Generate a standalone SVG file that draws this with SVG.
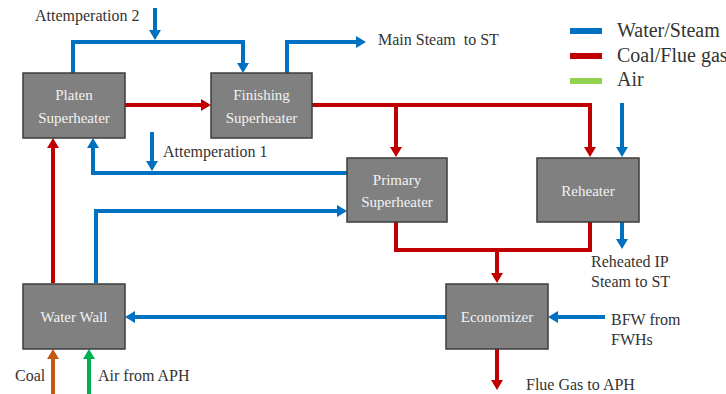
<svg xmlns="http://www.w3.org/2000/svg" width="726" height="394" viewBox="0 0 726 394">
  <style>
    text { font-family: 'Liberation Serif', 'Times New Roman', Times, 'DejaVu Serif', 'Noto Serif', serif; }
    .box { fill: #808080; stroke: #3c3c3c; stroke-width: 1.5; }
    .ntxt { font-size: 15px; fill: #f2f2f2; text-anchor: middle; }
    .lbl { font-size: 16px; fill: #333333; white-space: pre; }
    .leg { font-size: 20px; fill: #333333; }
    .w { fill: none; stroke: #0070C0; stroke-width: 4; }
    .g { fill: none; stroke: #C00000; stroke-width: 4; }
    .coal { fill: none; stroke: #C55A11; stroke-width: 4; }
    .air { fill: none; stroke: #00B050; stroke-width: 4; }
  </style>
  <defs>
    <marker id="ahBlue" viewBox="0 0 10 12" markerWidth="10" markerHeight="12" refX="2" refY="6" markerUnits="userSpaceOnUse" orient="auto">
      <path d="M0,0 L10,6 L0,12 z" fill="#0070C0"/>
    </marker>
    <marker id="ahRed" viewBox="0 0 10 12" markerWidth="10" markerHeight="12" refX="2" refY="6" markerUnits="userSpaceOnUse" orient="auto">
      <path d="M0,0 L10,6 L0,12 z" fill="#C00000"/>
    </marker>
    <marker id="ahOrange" viewBox="0 0 10 12" markerWidth="10" markerHeight="12" refX="2" refY="6" markerUnits="userSpaceOnUse" orient="auto">
      <path d="M0,0 L10,6 L0,12 z" fill="#C55A11"/>
    </marker>
    <marker id="ahGreen" viewBox="0 0 10 12" markerWidth="10" markerHeight="12" refX="2" refY="6" markerUnits="userSpaceOnUse" orient="auto">
      <path d="M0,0 L10,6 L0,12 z" fill="#00B050"/>
    </marker>
  </defs>

  <rect width="726" height="394" fill="#ffffff"/>

  <!-- flow lines -->
  <g id="connectors">
    <!-- water / steam -->
    <path class="w" d="M155,8 V32" marker-end="url(#ahBlue)"/>
    <path class="w" d="M73,73 V42 H243 V65" marker-end="url(#ahBlue)"/>
    <path class="w" d="M287,73 V42 H358" marker-end="url(#ahBlue)"/>
    <path class="w" d="M622,103 V149" marker-end="url(#ahBlue)"/>
    <path class="w" d="M152,132 V163" marker-end="url(#ahBlue)"/>
    <path class="w" d="M347,173 H93 V146" marker-end="url(#ahBlue)"/>
    <path class="w" d="M96,283 V211 H339" marker-end="url(#ahBlue)"/>
    <path class="w" d="M622,222 V241" marker-end="url(#ahBlue)"/>
    <path class="w" d="M446,317 H133" marker-end="url(#ahBlue)"/>
    <path class="w" d="M605,317 H556" marker-end="url(#ahBlue)"/>
    <!-- coal / flue gas -->
    <path class="g" d="M125,105 H203" marker-end="url(#ahRed)"/>
    <path class="g" d="M312,105 H590 V149" marker-end="url(#ahRed)"/>
    <path class="g" d="M396,105 V149" marker-end="url(#ahRed)"/>
    <path class="g" d="M53,283 V146" marker-end="url(#ahRed)"/>
    <path class="g" d="M396,222 V250 H590 V222"/>
    <path class="g" d="M497,250 V275" marker-end="url(#ahRed)"/>
    <path class="g" d="M497,349 V382" marker-end="url(#ahRed)"/>
    <!-- fuel and air inlets -->
    <path class="coal" d="M53,394 V357" marker-end="url(#ahOrange)"/>
    <path class="air" d="M89,394 V357" marker-end="url(#ahGreen)"/>
  </g>

  <!-- heat exchanger sections -->
  <g id="platen">
    <rect class="box" x="23" y="73" width="102" height="65"/>
    <text class="ntxt" x="74" y="100">Platen</text>
    <text class="ntxt" x="74" y="123">Superheater</text>
  </g>
  <g id="finishing">
    <rect class="box" x="211" y="73" width="101" height="65"/>
    <text class="ntxt" x="261.5" y="100">Finishing</text>
    <text class="ntxt" x="261.5" y="123">Superheater</text>
  </g>
  <g id="primary">
    <rect class="box" x="347" y="158" width="100" height="64"/>
    <text class="ntxt" x="397" y="185">Primary</text>
    <text class="ntxt" x="397" y="207">Superheater</text>
  </g>
  <g id="reheater">
    <rect class="box" x="537" y="158" width="102" height="64"/>
    <text class="ntxt" x="588" y="196">Reheater</text>
  </g>
  <g id="economizer">
    <rect class="box" x="446" y="284" width="102" height="65"/>
    <text class="ntxt" x="497" y="322">Economizer</text>
  </g>
  <g id="waterwall">
    <rect class="box" x="23" y="284" width="102" height="65"/>
    <text class="ntxt" x="74" y="322">Water Wall</text>
  </g>

  <!-- stream labels -->
  <g id="labels">
    <text class="lbl" x="35" y="21">Attemperation 2</text>
    <text class="lbl" x="378" y="45">Main Steam  to ST</text>
    <text class="lbl" x="163" y="157">Attemperation 1</text>
    <text class="lbl" x="591" y="267">Reheated IP</text>
    <text class="lbl" x="591" y="287">Steam to ST</text>
    <text class="lbl" x="611" y="325">BFW from</text>
    <text class="lbl" x="611" y="345">FWHs</text>
    <text class="lbl" x="526" y="390">Flue Gas to APH</text>
    <text class="lbl" x="15" y="381">Coal</text>
    <text class="lbl" x="98" y="381">Air from APH</text>
  </g>

  <!-- legend -->
  <g id="legend">
    <line x1="570" y1="31" x2="602" y2="31" stroke="#0070C0" stroke-width="6"/>
    <line x1="570" y1="56" x2="602" y2="56" stroke="#C00000" stroke-width="6"/>
    <line x1="570" y1="81" x2="602" y2="81" stroke="#92D050" stroke-width="6"/>
    <text class="leg" x="617" y="37">Water/Steam</text>
    <text class="leg" x="617" y="62">Coal/Flue gas</text>
    <text class="leg" x="617" y="86">Air</text>
  </g>
</svg>
